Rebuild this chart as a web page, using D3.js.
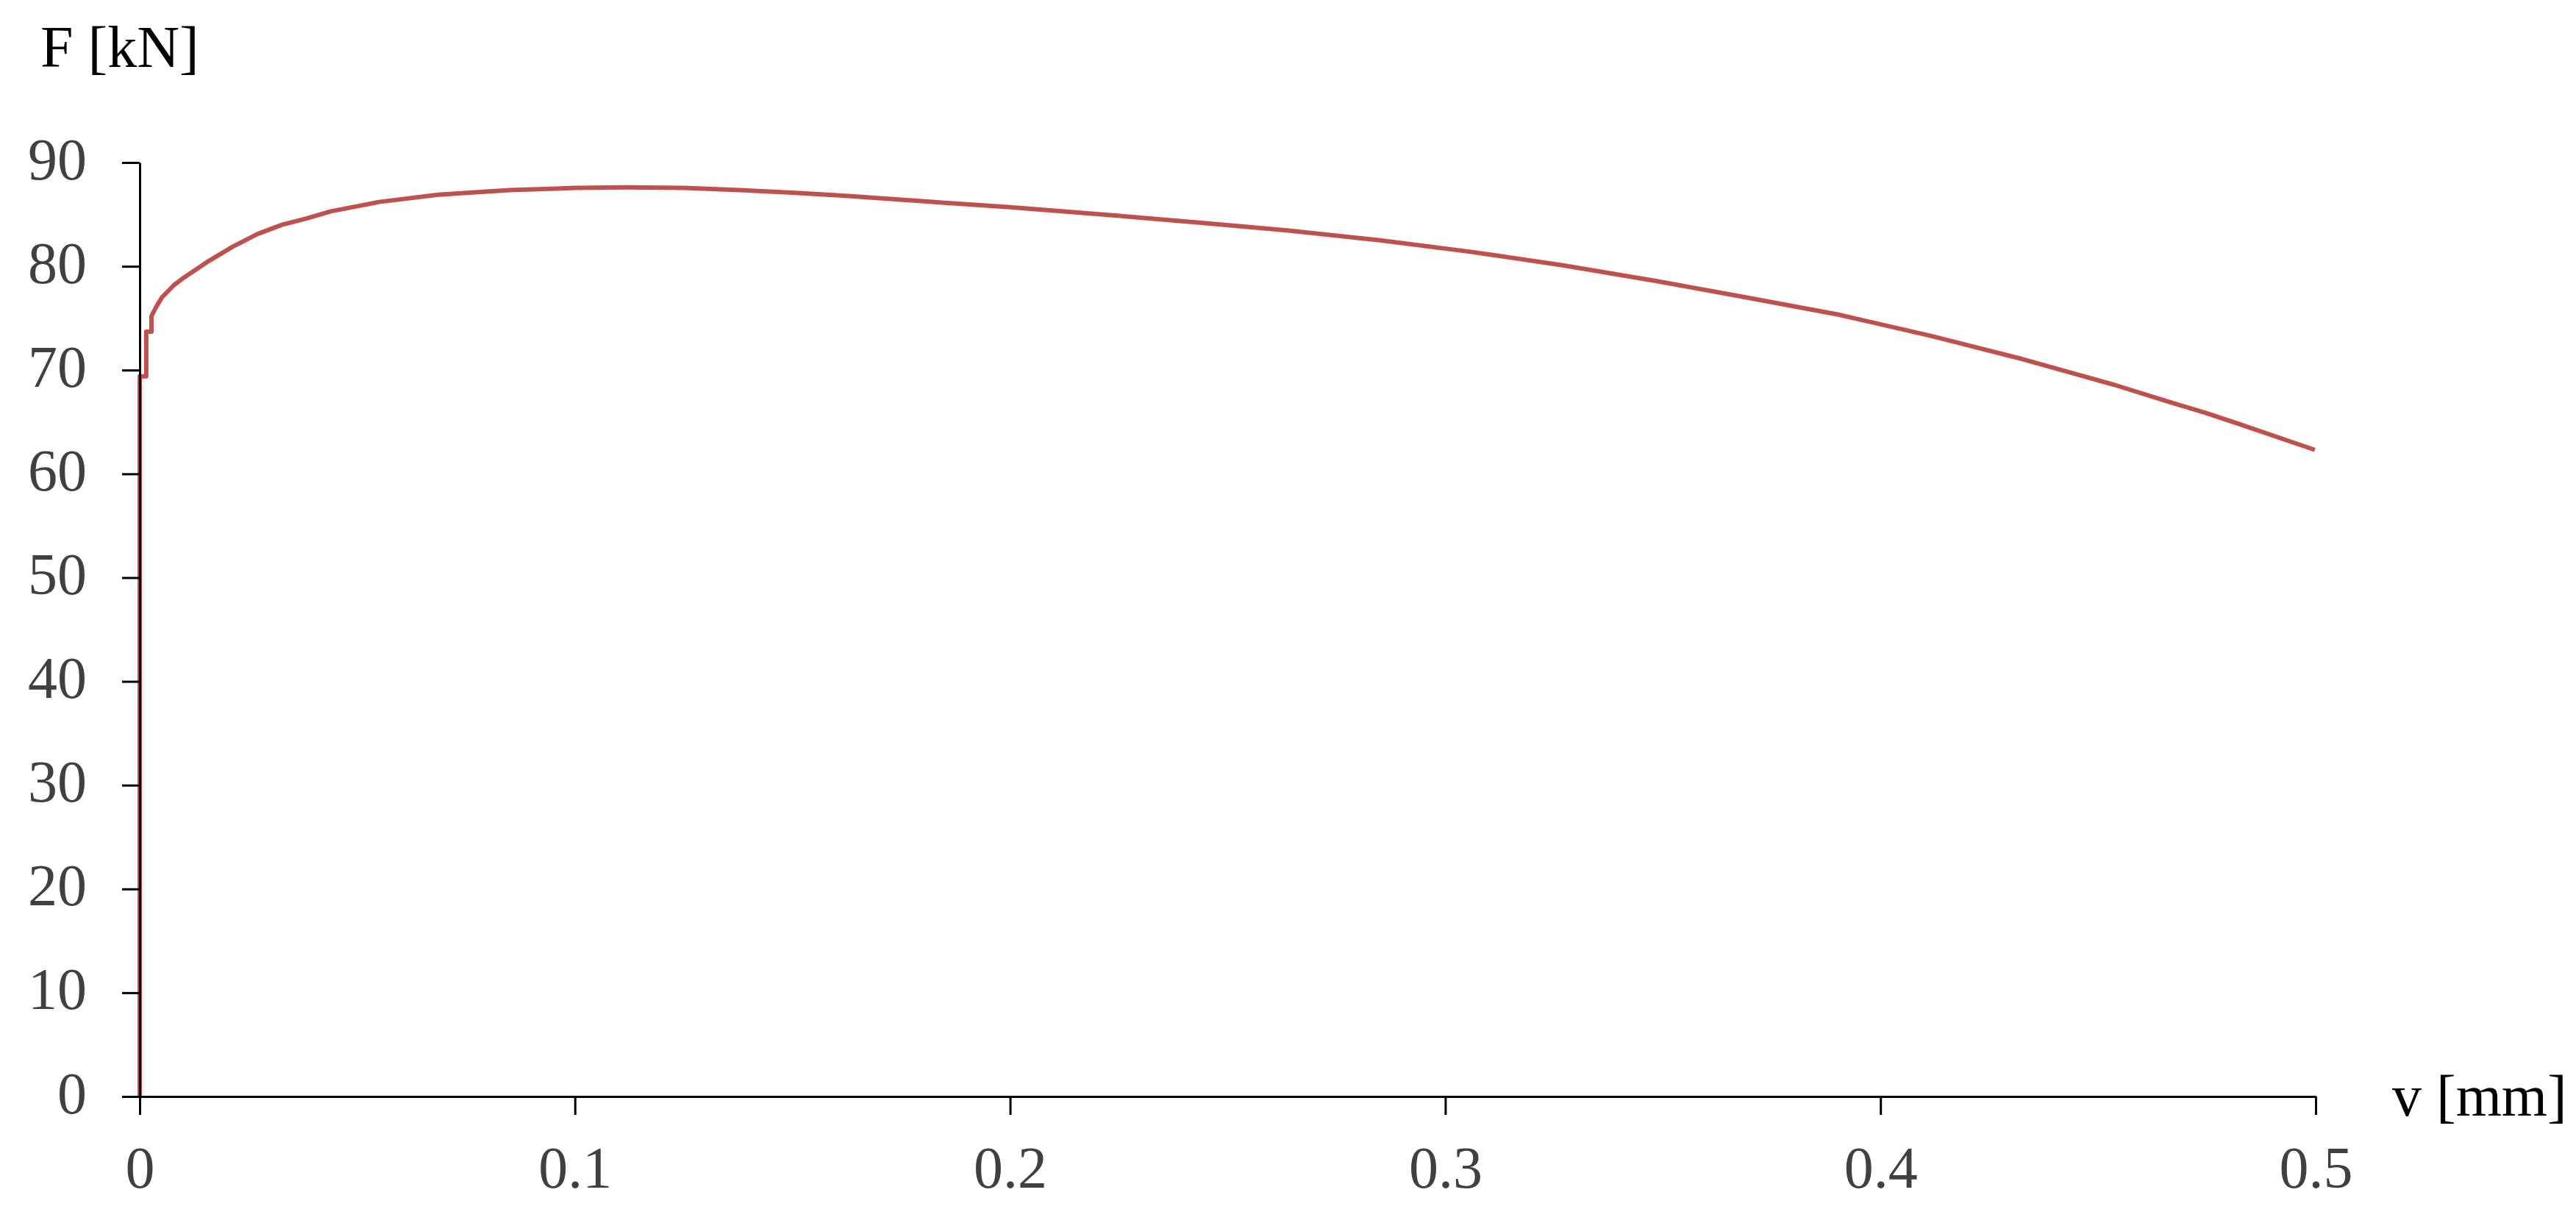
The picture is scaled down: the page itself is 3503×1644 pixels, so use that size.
<!DOCTYPE html>
<html>
<head>
<meta charset="utf-8">
<script src="https://cdn.jsdelivr.net/npm/d3@7"></script>
<style>
    body { margin: 0; background: #fff; }
    svg text { font-family: "Liberation Serif", "DejaVu Serif", serif; }
</style>
</head>
<body>
<div id="content"></div>
<script>
// displacement v [mm] and force F [kN]
var displacement = [0, 0, 0.0015, 0.0015, 0.0027, 0.0027, 0.0038, 0.0051, 0.0065, 0.0079, 0.0101, 0.013, 0.0158,
    0.0214, 0.027, 0.0327, 0.0383, 0.0439, 0.055, 0.0686, 0.085, 0.1, 0.1117, 0.125, 0.1369, 0.15, 0.1622,
    0.1791, 0.2, 0.2214, 0.2425, 0.2636, 0.285, 0.3058, 0.327, 0.3481, 0.3692, 0.3903, 0.4115, 0.4326,
    0.4537, 0.4664, 0.4748, 0.4833, 0.4998]
var force = [0, 69.4, 69.4, 73.7, 73.7, 75.2, 76.1, 77.0, 77.6, 78.2, 78.9, 79.7, 80.5,
    81.9, 83.1, 84.0, 84.6, 85.3, 86.2, 86.9, 87.35, 87.55, 87.6, 87.55, 87.36, 87.1, 86.8,
    86.29, 85.7, 84.99, 84.25, 83.46, 82.5, 81.4, 80.1, 78.61, 77.0, 75.35, 73.3, 71.06,
    68.58, 66.92, 65.86, 64.68, 62.31]
var xTicks = [0, 0.1, 0.2, 0.3, 0.4, 0.5]
var yTicks = [0, 10, 20, 30, 40, 50, 60, 70, 80, 90]
var xTitle = 'v [mm]'
var yTitle = 'F [kN]'

var width = 3503, height = 1644
// note: no "top" here, that name is taken by window.top
var plotLeft = 190, plotRight = 3149, plotTop = 221, plotBottom = 1491

var svg = d3.select('#content').append('svg')
    .attr('width', width)
    .attr('height', height)

var x = d3.scaleLinear().domain([0, 0.5]).range([plotLeft, plotRight])
var y = d3.scaleLinear().domain([0, 90]).range([plotBottom, plotTop])

var points = displacement.map((v, i) => [v, force[i]])

// the curve first, axes on top
svg.append('path')
    .datum(points)
    .attr('fill', 'none')
    .attr('stroke', '#C0504D')
    .attr('stroke-width', 6)
    .attr('stroke-linejoin', 'round')
    .attr('d', d3.line().x(d => x(d[0])).y(d => y(d[1])))

var yAxis = svg.append('g')
    .attr('transform', 'translate(' + plotLeft + ',0)')
    .call(d3.axisLeft(y).tickValues(yTicks).tickSize(24).tickSizeOuter(0).tickFormat(d3.format('d')))

var xAxis = svg.append('g')
    .attr('transform', 'translate(0,' + plotBottom + ')')
    .call(d3.axisBottom(x).tickValues(xTicks).tickSize(25).tickSizeOuter(0).tickFormat(d => d == 0 ? '0' : d3.format('.1f')(d)))

svg.selectAll('.domain, .tick line')
    .attr('stroke', '#000')
    .attr('stroke-width', 3)

svg.selectAll('.tick text')
    .attr('fill', '#404040')
    .style('font-size', '80px')

yAxis.selectAll('.tick text')
    .attr('x', -72)
    .attr('dy', 22)

xAxis.selectAll('.tick text')
    .attr('y', 124)
    .attr('dy', 0)

svg.append('text')
    .attr('x', 55)
    .attr('y', 91)
    .style('font-size', '80px')
    .attr('fill', '#000')
    .text(yTitle)

svg.append('text')
    .attr('x', 3253)
    .attr('y', 1517)
    .style('font-size', '80px')
    .attr('fill', '#000')
    .text(xTitle)
</script>
</body>
</html>
